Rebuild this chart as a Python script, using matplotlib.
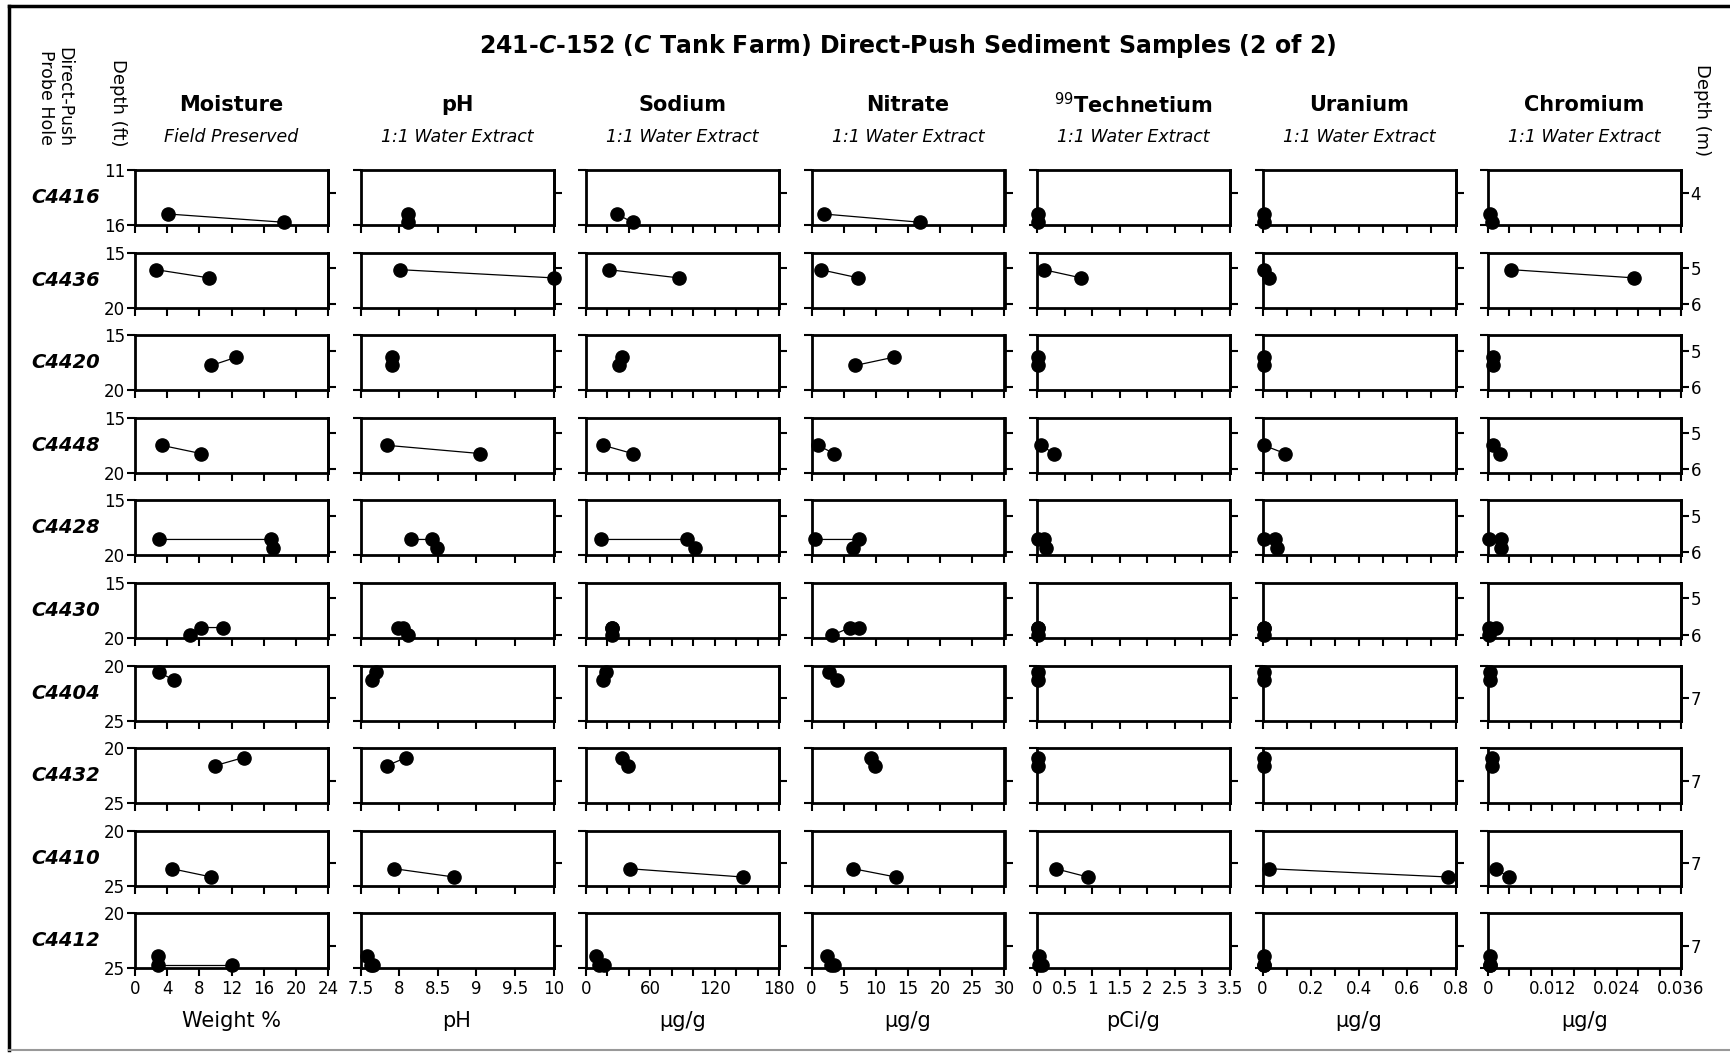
import matplotlib
matplotlib.use('Agg')
import matplotlib.pyplot as plt
from matplotlib.ticker import MultipleLocator, FuncFormatter, NullFormatter
from matplotlib.lines import Line2D

plt.rcParams['font.family'] = 'DejaVu Sans'
plt.rcParams['mathtext.fontset'] = 'custom'
plt.rcParams['mathtext.rm'] = 'DejaVu Sans'
plt.rcParams['mathtext.it'] = 'DejaVu Sans:italic:bold'
plt.rcParams['mathtext.bf'] = 'DejaVu Sans:bold'

# ---------------------------------------------------------------- data
holes = ['C4416', 'C4436', 'C4420', 'C4448', 'C4428',
         'C4430', 'C4404', 'C4432', 'C4410', 'C4412']
depth_top = [11, 15, 15, 15, 15, 15, 20, 20, 20, 20]
depth_bot = [16, 20, 20, 20, 20, 20, 25, 25, 25, 25]
sample_depth = [[15.0, 15.75], [16.55, 17.3], [17.0, 17.75], [17.5, 18.25],
                [18.55, 18.55, 19.3], [19.05, 19.05, 19.75], [20.6, 21.35],
                [20.85, 21.6], [23.45, 24.2], [23.9, 24.65, 24.65]]

moisture = [[4.1, 18.5], [2.6, 9.2], [12.6, 9.5], [3.3, 8.2], [3.0, 16.9, 17.1],
            [10.9, 8.2, 6.9], [3.0, 4.9], [13.5, 9.9], [4.6, 9.5], [2.9, 2.9, 12.1]]
ph = [[8.12, 8.12], [8.01, 10.0], [7.91, 7.91], [7.84, 9.05], [8.15, 8.43, 8.49],
      [7.99, 8.05, 8.12], [7.70, 7.65], [8.09, 7.84], [7.94, 8.71], [7.59, 7.63, 7.66]]
sodium = [[28.5, 43.4], [21, 86.5], [34, 31], [16, 43.4], [13.7, 94.3, 101.4],
          [24, 24, 24.5], [18.6, 15.7], [34, 39], [41, 146], [9, 12.5, 16.8]]
nitrate = [[1.9, 16.9], [1.4, 7.3], [12.8, 6.8], [1.0, 3.5], [0.6, 7.4, 6.4],
           [7.4, 6.0, 3.2], [2.7, 3.9], [9.3, 9.8], [6.5, 13.1], [2.4, 3.1, 3.5]]
technetium = [[0.02, 0.02], [0.12, 0.80], [0.02, 0.02], [0.07, 0.31], [0.02, 0.13, 0.17],
              [0.02, 0.02, 0.02], [0.02, 0.02], [0.02, 0.02], [0.34, 0.92], [0.04, 0.04, 0.09]]
uranium = [[0.006, 0.006], [0.006, 0.029], [0.005, 0.005], [0.005, 0.094],
           [0.006, 0.051, 0.062], [0.006, 0.006, 0.006], [0.006, 0.006],
           [0.006, 0.006], [0.029, 0.77], [0.006, 0.006, 0.006]]
chromium = [[0.0003, 0.0007], [0.0043, 0.0273], [0.0009, 0.0009], [0.0009, 0.0022],
            [0.0002, 0.0024, 0.0024], [0.0014, 0.0002, 0.0002], [0.0003, 0.0003],
            [0.0008, 0.0008], [0.0014, 0.0039], [0.0003, 0.0003, 0.0003]]

analytes = [moisture, ph, sodium, nitrate, technetium, uranium, chromium]
col_names = ['Moisture', 'pH', 'Sodium', 'Nitrate', r'$^{99}$Technetium', 'Uranium', 'Chromium']
col_subs = ['Field Preserved'] + ['1:1 Water Extract'] * 6
col_units = ['Weight %', 'pH', 'µg/g', 'µg/g', 'pCi/g', 'µg/g', 'µg/g']
x_limits = [(0, 24), (7.5, 10), (0, 180), (0, 30), (0, 3.5), (0, 0.8), (0, 0.036)]
x_major = [4, 0.5, 60, 5, 0.5, 0.2, 0.012]
x_minor = [4, 0.5, 20, 5, 0.5, 0.1, 0.004]
m_ticks = [4, 5, 6, 7]

# ---------------------------------------------------------------- layout
W, H = 1730, 1055
fig = plt.figure(figsize=(W / 100, H / 100), dpi=100)

ax_left0, ax_pitch_x, ax_w = 135, 225.5, 193
ax_top0, ax_pitch_y, ax_h = 170, 82.6, 55
FT_TO_M = 0.3048


def fx(x):
    return x / W


def fy(y):
    return 1 - y / H


def tick_fmt(v, pos):
    if abs(v) < 1e-9:
        return '0'
    return '{:g}'.format(round(v, 4))


ft2m = (lambda f: f * FT_TO_M, lambda m: m / FT_TO_M)
ncol, nrow = len(analytes), len(holes)

for j, hole in enumerate(holes):
    top_px = ax_top0 + j * ax_pitch_y
    # metre ticks that fall inside this hole's depth window
    row_m = [m for m in m_ticks
             if depth_top[j] * FT_TO_M <= m <= depth_bot[j] * FT_TO_M]
    for i, data in enumerate(analytes):
        left_px = ax_left0 + i * ax_pitch_x
        ax = fig.add_axes([fx(left_px), fy(top_px + ax_h), ax_w / W, ax_h / H])
        ax.plot(data[j], sample_depth[j], '-o', color='black', lw=0.9, ms=9.5,
                clip_on=False, zorder=5)
        ax.set_xlim(*x_limits[i])
        ax.set_ylim(depth_bot[j], depth_top[j])
        for s in ax.spines.values():
            s.set_linewidth(2)

        # depth in feet on the left
        ax.set_yticks([depth_top[j], depth_bot[j]])
        if i != 0:
            ax.yaxis.set_major_formatter(NullFormatter())
        ax.tick_params(axis='y', direction='out', length=6, width=1.5,
                       labelsize=12, pad=1)

        # concentration axis
        ax.xaxis.set_major_locator(MultipleLocator(x_major[i]))
        ax.xaxis.set_minor_locator(MultipleLocator(x_minor[i]))
        if j == nrow - 1:
            ax.xaxis.set_major_formatter(FuncFormatter(tick_fmt))
        else:
            ax.xaxis.set_major_formatter(NullFormatter())
        ax.tick_params(axis='x', which='both', direction='out', length=6, width=1.5,
                       labelsize=12, pad=2)

        # depth in metres on the right
        sec = ax.secondary_yaxis('right', functions=ft2m)
        sec.set_yticks(row_m)
        if i != ncol - 1:
            sec.yaxis.set_major_formatter(NullFormatter())
        sec.spines['right'].set_linewidth(2)
        sec.tick_params(direction='out', length=6, width=1.5, labelsize=12, pad=1)

    fig.text(fx(66), fy(top_px + ax_h / 2), hole, ha='center', va='center',
             fontsize=14, fontweight='bold', fontstyle='italic')

# column headers and units
for i in range(ncol):
    cx = ax_left0 + i * ax_pitch_x + ax_w / 2
    fig.text(fx(cx), fy(105), col_names[i], ha='center', va='center',
             fontsize=15, fontweight='bold')
    fig.text(fx(cx), fy(137), col_subs[i], ha='center', va='center',
             fontsize=12.5, fontstyle='italic')
    fig.text(fx(cx), fy(1021), col_units[i], ha='center', va='center', fontsize=15)

fig.text(fx(908), fy(46),
         r'241-$\mathit{C}$-152 ($\mathit{C}$ Tank Farm) Direct-Push Sediment Samples (2 of 2)',
         ha='center', va='center', fontsize=17, fontweight='bold')
fig.text(fx(55), fy(97), 'Direct-Push\nProbe Hole', ha='center', va='center',
         rotation=270, fontsize=12.5, linespacing=1.0)
fig.text(fx(118), fy(103), 'Depth (ft)', ha='center', va='center',
         rotation=270, fontsize=13)
fig.text(fx(1702), fy(110), 'Depth (m)', ha='center', va='center',
         rotation=270, fontsize=13)

# outer frame
fig.add_artist(Line2D([fx(9), fx(9)], [fy(6), fy(1050)], color='black', lw=2.5))
fig.add_artist(Line2D([fx(9), 1], [fy(6), fy(6)], color='black', lw=2.5))
fig.add_artist(Line2D([fx(9), 1], [fy(1050), fy(1050)], color='#999999', lw=1.5))

fig.savefig('out.png', dpi=100)
